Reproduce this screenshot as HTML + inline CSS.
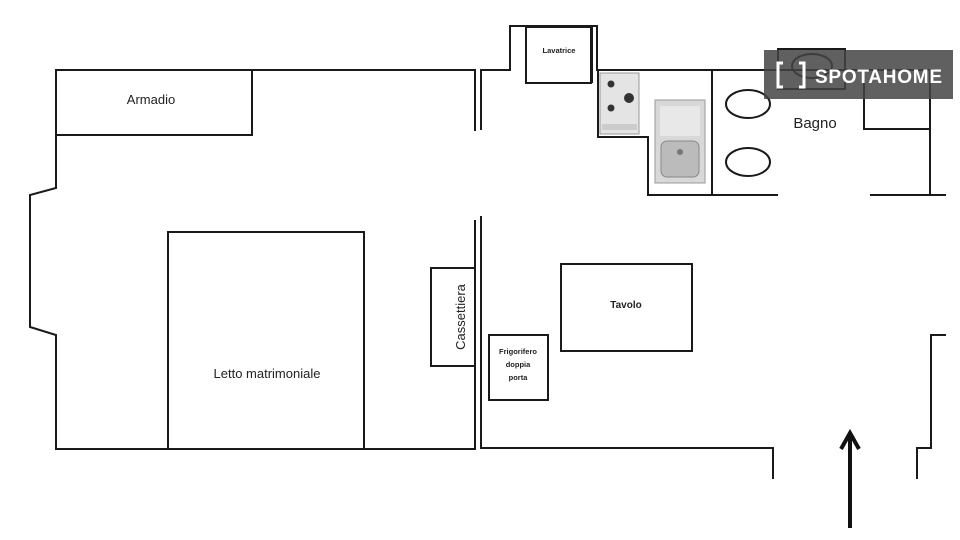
<!DOCTYPE html>
<html><head><meta charset="utf-8"><style>
html,body{margin:0;padding:0;background:#fff;width:960px;height:540px;overflow:hidden}
text{font-family:"Liberation Sans",sans-serif;fill:#222}
</style></head><body>
<svg width="960" height="540" viewBox="0 0 960 540" xmlns="http://www.w3.org/2000/svg">
<g fill="none" stroke="#1a1a1a" stroke-width="2">
<polyline points="475,131 475,70 56,70 56,188 30,195 30,327 56,335 56,449 475,449 475,220"/>
<rect x="56" y="70" width="196" height="65"/>
<rect x="168" y="232" width="196" height="217"/>
<rect x="431" y="268" width="44" height="98"/>
<polyline points="481,130 481,70 510,70 510,26 597,26 597,70 935,70"/>
<line x1="592" y1="26" x2="592" y2="83"/>
<rect x="526" y="27" width="65" height="56"/>
<polyline points="598,70 598,137 648,137 648,195 778,195"/>
<line x1="712" y1="70" x2="712" y2="195"/>
<ellipse cx="748" cy="104" rx="22" ry="14"/>
<ellipse cx="748" cy="162" rx="22" ry="14"/>
<rect x="778" y="49" width="67" height="40"/>
<ellipse cx="812" cy="66" rx="20" ry="12"/>
<polyline points="864,80 864,129 930,129 930,70"/>
<line x1="930" y1="129" x2="930" y2="195"/>
<line x1="870" y1="195" x2="946" y2="195"/>
<polyline points="481,216 481,448 773,448 773,479"/>
<rect x="489" y="335" width="59" height="65"/>
<rect x="561" y="264" width="131" height="87"/>
<polyline points="946,335 931,335 931,448 917,448 917,479"/>
</g>
<rect x="600" y="73" width="39" height="61" fill="#e4e4e4" stroke="#999"/>
<circle cx="611" cy="84" r="3.5" fill="#333"/><circle cx="611" cy="108" r="3.5" fill="#333"/><circle cx="629" cy="98" r="5" fill="#333"/>
<rect x="602" y="124" width="35" height="6" fill="#ccc"/>
<rect x="655" y="100" width="50" height="83" fill="#d8d8d8" stroke="#999"/>
<rect x="660" y="106" width="40" height="30" fill="#e8e8e8"/>
<rect x="661" y="141" width="38" height="36" rx="6" fill="#bbb" stroke="#888"/>
<circle cx="680" cy="152" r="3" fill="#777"/>
<line x1="850" y1="528" x2="850" y2="436" stroke="#111" stroke-width="4"/>
<polyline points="841,449 850,433 859,449" fill="none" stroke="#111" stroke-width="4"/>
<text x="151" y="104" font-size="13" text-anchor="middle">Armadio</text>
<text x="267" y="378" font-size="13" text-anchor="middle">Letto matrimoniale</text>
<text x="0" y="0" font-size="13" text-anchor="middle" transform="translate(465,317) rotate(-90)">Cassettiera</text>
<text x="559" y="53" font-size="7.5" font-weight="bold" text-anchor="middle">Lavatrice</text>
<text x="815" y="128" font-size="15" text-anchor="middle">Bagno</text>
<text x="626" y="308" font-size="10" font-weight="bold" text-anchor="middle">Tavolo</text>
<text x="518" y="354" font-size="7.5" font-weight="bold" text-anchor="middle">Frigorifero</text>
<text x="518" y="367" font-size="7.5" font-weight="bold" text-anchor="middle">doppia</text>
<text x="518" y="380" font-size="7.5" font-weight="bold" text-anchor="middle">porta</text>
<rect x="764" y="50" width="189" height="49" fill="#444" fill-opacity="0.85"/>
<path d="M783,63 h-5 v24 h5 M799,63 h5 v24 h-5" stroke="#fff" stroke-width="3" fill="none"/>
<text x="815" y="83" font-size="19" font-weight="bold" textLength="127" style="fill:#fff">SPOTAHOME</text>
</svg>
</body></html>
